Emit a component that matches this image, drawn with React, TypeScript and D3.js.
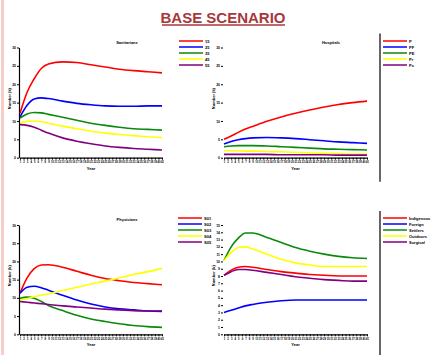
import React, { useEffect, useRef } from 'react';
import * as d3 from 'd3';

// sample years shared by every series
const years = [0, 2, 4, 6, 8, 12, 16, 20, 24, 28, 32, 36, 40];
const yearTicks = d3.range(0, 41);

const colors = ['#ff0000', '#0000ff', '#0a8a0a', '#ffff00', '#800080'];

// panel 1
const p1Labels = ['15', '25', '35', '45', '55'];
const p1Red = [12.1, 17.8, 21.5, 24.3, 25.5, 26.1, 25.9, 25.3, 24.7, 24.1, 23.7, 23.4, 23.1];
const p1Blue = [11.1, 14.3, 16.0, 16.3, 16.1, 15.4, 14.8, 14.4, 14.1, 14.0, 14.0, 14.1, 14.1];
const p1Green = [10.8, 11.9, 12.3, 12.2, 11.8, 11.0, 10.2, 9.4, 8.8, 8.3, 7.9, 7.7, 7.5];
const p1Yellow = [9.4, 9.9, 10.0, 9.8, 9.4, 8.6, 7.9, 7.2, 6.7, 6.3, 6.0, 5.7, 5.5];
const p1Purple = [9.0, 8.8, 8.3, 7.5, 6.7, 5.4, 4.5, 3.8, 3.2, 2.8, 2.5, 2.3, 2.1];

// panel 2
const p2Labels = ['P', 'PF', 'PE', 'Pr', 'Pc'];
const p2Red = [5.0, 5.9, 6.9, 7.8, 8.5, 9.9, 11.1, 12.1, 13.0, 13.8, 14.5, 15.0, 15.4];
const p2Blue = [3.7, 4.4, 4.9, 5.2, 5.4, 5.5, 5.4, 5.2, 4.9, 4.6, 4.3, 4.1, 3.9];
const p2Green = [3.0, 3.2, 3.3, 3.3, 3.3, 3.2, 3.0, 2.8, 2.6, 2.4, 2.3, 2.2, 2.1];
const p2Yellow = [1.9, 1.9, 1.9, 1.8, 1.8, 1.7, 1.6, 1.5, 1.3, 1.2, 1.1, 1.0, 1.0];
const p2Purple = [0.9, 0.9, 0.9, 0.9, 0.9, 0.9, 0.8, 0.8, 0.8, 0.8, 0.7, 0.7, 0.7];

// panel 3
const p3Labels = ['S01', 'S02', 'S03', 'S04', 'S05'];
const p3Red = [11.3, 15.5, 18.0, 19.0, 19.1, 18.4, 17.3, 16.2, 15.3, 14.7, 14.2, 13.9, 13.6];
const p3Blue = [11.3, 12.9, 13.2, 12.8, 12.1, 10.7, 9.4, 8.3, 7.5, 7.0, 6.7, 6.4, 6.3];
const p3Green = [9.9, 10.2, 9.9, 9.0, 7.9, 6.5, 5.2, 4.2, 3.5, 2.9, 2.4, 2.1, 1.9];
const p3Yellow = [9.4, 9.8, 10.3, 10.7, 11.1, 12.0, 12.9, 13.8, 14.6, 15.5, 16.4, 17.2, 18.1];
const p3Purple = [9.0, 8.8, 8.6, 8.4, 8.2, 7.8, 7.5, 7.2, 6.9, 6.7, 6.5, 6.4, 6.4];

// panel 4
const p4Labels = ['Indigenous', 'Foreign', 'Settlers', 'Outdoors', 'Surgical'];
const p4Red = [8.1, 8.8, 9.2, 9.3, 9.2, 8.9, 8.6, 8.4, 8.2, 8.1, 8.0, 8.0, 8.0];
const p4Blue = [3.0, 3.3, 3.6, 3.9, 4.1, 4.4, 4.6, 4.7, 4.7, 4.7, 4.7, 4.7, 4.7];
const p4Green = [10.1, 12.0, 13.2, 13.9, 13.9, 13.3, 12.6, 11.9, 11.4, 11.0, 10.7, 10.5, 10.4];
const p4Yellow = [10.1, 11.2, 11.9, 12.0, 11.7, 11.0, 10.3, 9.8, 9.5, 9.3, 9.3, 9.3, 9.3];
const p4Purple = [8.1, 8.6, 8.9, 8.9, 8.8, 8.5, 8.2, 7.9, 7.7, 7.5, 7.4, 7.3, 7.3];

const panels = [
    { title: 'Sanitarians', labels: p1Labels, series: [p1Red, p1Blue, p1Green, p1Yellow, p1Purple],
      x0: 20, x1: 162, yTop: 47.5, yBot: 157.7, yMax: 30, yStep: 5, axisLine: true, legendX: 179, legendY: 41, divider: false },
    { title: 'Hospitals', labels: p2Labels, series: [p2Red, p2Blue, p2Green, p2Yellow, p2Purple],
      x0: 224, x1: 367, yTop: 47.5, yBot: 157.7, yMax: 30, yStep: 5, axisLine: false, legendX: 383, legendY: 41, divider: true },
    { title: 'Physicians', labels: p3Labels, series: [p3Red, p3Blue, p3Green, p3Yellow, p3Purple],
      x0: 20, x1: 162, yTop: 225, yBot: 334.3, yMax: 30, yStep: 5, axisLine: true, legendX: 178, legendY: 218, divider: false },
    { title: '', labels: p4Labels, series: [p4Red, p4Blue, p4Green, p4Yellow, p4Purple],
      x0: 224, x1: 367, yTop: 225, yBot: 334.3, yMax: 15, yStep: 1, axisLine: false, legendX: 383, legendY: 218, divider: true },
];

export default function App() {
    const svgRef = useRef<SVGSVGElement>(null);

    useEffect(() => {
        const svg = d3.select(svgRef.current);
        svg.selectAll('*').remove();

        // pink page edge
        svg.append('rect').attr('x', 1).attr('y', 0).attr('width', 3).attr('height', 355).attr('fill', '#f6cdc9');

        svg.append('text')
            .attr('x', 223).attr('y', 23)
            .attr('text-anchor', 'middle')
            .attr('font-family', 'Liberation Sans, Arial, sans-serif')
            .attr('font-weight', 'bold')
            .attr('font-size', 15)
            .attr('fill', '#a8383a')
            .text('BASE SCENARIO');
        svg.append('line').attr('x1', 162).attr('x2', 285).attr('y1', 25).attr('y2', 25)
            .attr('stroke', '#a8383a').attr('stroke-width', 1.5);

        panels.forEach((p) => {
            const g = svg.append('g').attr('font-family', 'Liberation Sans, Arial, sans-serif');

            const x = d3.scaleLinear().domain([0, 40]).range([p.x0, p.x1]);
            const y = d3.scaleLinear().domain([0, p.yMax]).range([p.yBot, p.yTop]);

            const xAxis = g.append('g')
                .attr('transform', `translate(0,${p.yBot})`)
                .call(d3.axisBottom(x).tickValues(yearTicks).tickSize(2).tickSizeOuter(0).tickFormat((d) => String(+d + 1)));
            xAxis.select('.domain').attr('stroke-width', 1.2);
            xAxis.selectAll('text').attr('font-size', 2.7).attr('font-weight', 'bold').attr('y', 3.5);

            const yAxis = g.append('g')
                .attr('transform', `translate(${p.x0 - 1},0)`)
                .call(d3.axisLeft(y).tickValues(d3.range(0, p.yMax + 0.01, p.yStep)).tickSize(2).tickSizeOuter(0));
            yAxis.select('.domain').attr('stroke-width', 1.2).attr('display', p.axisLine ? null : 'none');
            yAxis.selectAll('text').attr('font-size', 3.4).attr('font-weight', 'bold').attr('x', -3);

            g.append('text')
                .attr('transform', `translate(${p.x0 - 9},${(p.yTop + p.yBot) / 2 - 4}) rotate(-90)`)
                .attr('text-anchor', 'middle').attr('font-size', 4).attr('font-weight', 'bold')
                .text('Number (k)');
            g.append('text')
                .attr('x', (p.x0 + p.x1) / 2).attr('y', p.yBot + 12)
                .attr('text-anchor', 'middle').attr('font-size', 4).attr('font-weight', 'bold')
                .text('Year');
            if (p.title) {
                g.append('text')
                    .attr('x', p.x0 + 107).attr('y', p.yTop - 4)
                    .attr('text-anchor', 'middle').attr('font-size', 4).attr('font-weight', 'bold')
                    .text(p.title);
            }

            const line = d3.line<number>()
                .x((_, i) => x(years[i]))
                .y((d) => y(d))
                .curve(d3.curveMonotoneX);

            p.series.forEach((s, i) => {
                g.append('path').attr('d', line(s)).attr('fill', 'none')
                    .attr('stroke', colors[i]).attr('stroke-width', 1.6);
            });

            const legend = g.append('g').attr('transform', `translate(${p.legendX},${p.legendY})`);
            p.labels.forEach((lab, i) => {
                legend.append('line').attr('x1', 0).attr('x2', 24).attr('y1', i * 6).attr('y2', i * 6)
                    .attr('stroke', colors[i]).attr('stroke-width', 1.5);
                legend.append('text').attr('x', 26).attr('y', i * 6 + 1.5)
                    .attr('font-size', 4).attr('font-weight', 'bold').text(lab);
            });

            if (p.divider) {
                g.append('line').attr('x1', 380).attr('x2', 380)
                    .attr('y1', p.yTop - 14).attr('y2', p.yBot + 24)
                    .attr('stroke', '#000').attr('stroke-width', 1.2);
            }
        });
    }, []);

    return (
        <svg ref={svgRef} width={435} height={355}
            style={{ position: 'absolute', left: 0, top: 0, background: '#fff' }} />
    );
}
